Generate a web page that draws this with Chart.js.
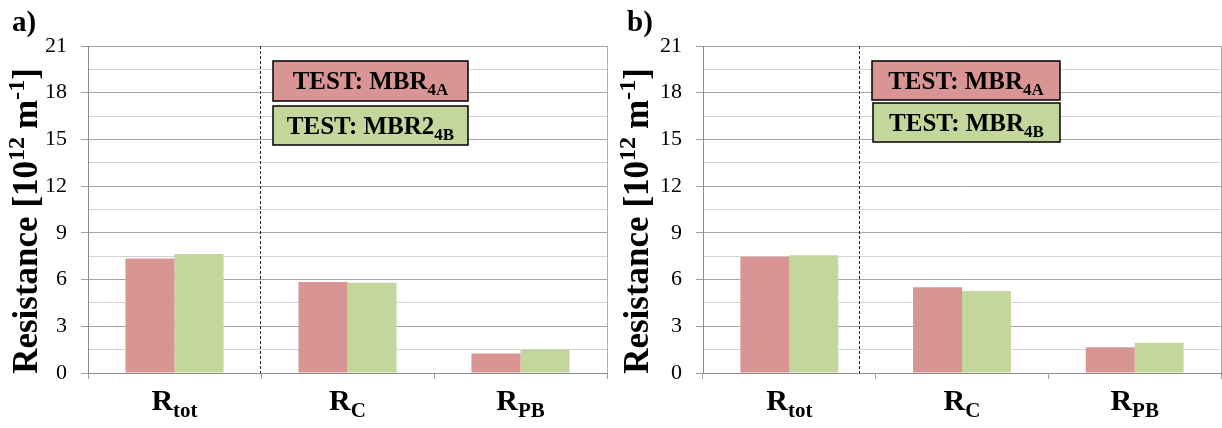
<!DOCTYPE html>
<html>
<head>
<meta charset="utf-8">
<script src="https://cdn.jsdelivr.net/npm/chart.js@4.4.0/dist/chart.umd.min.js"></script>
<style>
  body { margin: 0; background: #fff; }
  #wrap { position: relative; width: 1222px; height: 428px; overflow: hidden; }
  canvas { position: absolute; top: 0; }
</style>
</head>
<body>
<div id="wrap">
  <canvas id="chartA" width="611" height="428" style="left:0"></canvas>
  <canvas id="chartB" width="611" height="428" style="left:611px"></canvas>
</div>
<script>
// categories (main letter + subscript)
const categories = ["Rtot", "RC", "RPB"];
const catMain = ["R", "R", "R"];
const catSub = ["tot", "C", "PB"];

// panel a
const a4A = [7.35, 5.85, 1.25];
const a4B = [7.65, 5.79, 1.51];
const namesA = ["TEST: MBR", "TEST: MBR2"];
const subsA = ["4A", "4B"];

// panel b
const b4A = [7.46, 5.51, 1.65];
const b4B = [7.56, 5.27, 1.95];
const namesB = ["TEST: MBR", "TEST: MBR"];
const subsB = ["4A", "4B"];

// y axis
const yMin = 0;
const yMax = 21;
const yMajor = 3;
const yMinor = 1.5;

const colors = ["#D99594", "#C3D69B"];
const serif = "'Liberation Serif', 'Times New Roman', serif";

// draws a run of text pieces [{t, size, dy, gap}] starting at x
function drawRuns(ctx, runs, x, y) {
  let cx = x;
  runs.forEach((r) => {
    ctx.font = `bold ${r.size}px ${serif}`;
    ctx.fillText(r.t, cx, y + (r.dy || 0));
    cx += ctx.measureText(r.t).width + (r.gap || 0);
  });
}

function runsWidth(ctx, runs) {
  let w = 0;
  runs.forEach((r) => {
    ctx.font = `bold ${r.size}px ${serif}`;
    w += ctx.measureText(r.t).width + (r.gap || 0);
  });
  return w;
}

const decorPlugin = {
  id: "decor",
  afterDraw(chart, args, opts) {
    const ctx = chart.ctx;
    const xs = chart.scales.x;
    const area = chart.chartArea;
    ctx.save();
    ctx.fillStyle = "#000";
    ctx.textAlign = "left";
    ctx.textBaseline = "alphabetic";

    // divider
    const dx = Math.round(xs.getPixelForValue(opts.divider)) + 0.5;
    ctx.strokeStyle = "#222";
    ctx.lineWidth = 1;
    ctx.setLineDash([3, 2]);
    ctx.beginPath();
    ctx.moveTo(dx, area.top);
    ctx.lineTo(dx, area.bottom);
    ctx.stroke();
    ctx.setLineDash([]);

    // panel letter
    ctx.font = `bold 29px ${serif}`;
    ctx.fillText(opts.letter, opts.letterX, 31);

    // category labels
    categories.forEach((c, i) => {
      const runs = [
        { t: catMain[i], size: 30 },
        { t: catSub[i], size: 21, dy: 7 },
      ];
      const w = runsWidth(ctx, runs);
      drawRuns(ctx, runs, xs.getPixelForValue(i) - w / 2, area.bottom + 37);
    });

    // y title, rotated
    ctx.save();
    ctx.translate(opts.titleX, opts.titleY);
    ctx.rotate(-Math.PI / 2);
    const title = [
      { t: "Resistance [10", size: 35 },
      { t: "12", size: 24, dy: -13, gap: 8 },
      { t: "m", size: 35 },
      { t: "-1", size: 24, dy: -13 },
      { t: "]", size: 35 },
    ];
    const tw = runsWidth(ctx, title);
    drawRuns(ctx, title, -tw / 2, 12);
    ctx.restore();

    // legend boxes
    chart.data.datasets.forEach((ds, i) => {
      const b = opts.boxes[i];
      ctx.fillStyle = ds.backgroundColor;
      ctx.fillRect(b.x, b.y, b.w, b.h);
      ctx.strokeStyle = "#000";
      ctx.lineWidth = 1.5;
      ctx.strokeRect(b.x, b.y, b.w, b.h);
      ctx.fillStyle = "#000";
      const runs = [
        { t: ds.label, size: 25 },
        { t: opts.subs[i], size: 17, dy: 6 },
      ];
      const w = runsWidth(ctx, runs);
      drawRuns(ctx, runs, b.x + b.w / 2 - w / 2, b.y + b.h / 2 + 8);
    });
    ctx.restore();
  },
};

function makeChart(id, s1, s2, names, subs, axisWidth, padRight, decor) {
  const ctx = document.getElementById(id).getContext("2d");
  return new Chart(ctx, {
    type: "bar",
    data: {
      labels: categories,
      datasets: [
        { label: names[0], data: s1, backgroundColor: colors[0] },
        { label: names[1], data: s2, backgroundColor: colors[1] },
      ],
    },
    options: {
      responsive: false,
      animation: false,
      events: [],
      categoryPercentage: 0.567,
      barPercentage: 1,
      layout: { padding: { top: 46, right: padRight, bottom: 0, left: 0 } },
      plugins: {
        legend: { display: false },
        tooltip: { enabled: false },
        decor: Object.assign({ subs }, decor),
      },
      scales: {
        x: {
          type: "category",
          offset: true,
          afterFit: (s) => { s.height = 55; },
          grid: {
            offset: true,
            drawOnChartArea: true,
            color: (c) => (c.type === "tick" ? "rgba(0,0,0,0)" : "#b0b0b0"),
            tickColor: "#a0a0a0",
            tickLength: 6,
          },
          border: { color: "#8c8c8c" },
          ticks: { display: false },
        },
        y: {
          min: yMin,
          max: yMax,
          afterFit: (s) => { s.width = axisWidth; },
          grid: {
            color: (c) => (c.tick && c.tick.value % yMajor === 0 ? "#a6a6a6" : "#d4d4d4"),
            tickColor: (c) => (c.tick && c.tick.value % yMajor === 0 ? "#a0a0a0" : "rgba(0,0,0,0)"),
            tickLength: 7,
          },
          border: { color: "#8c8c8c" },
          ticks: {
            stepSize: yMinor,
            autoSkip: false,
            padding: 14,
            color: "#000",
            font: { family: serif, size: 22 },
            callback: (v) => (v % yMajor === 0 ? v : ""),
          },
        },
      },
    },
    plugins: [decorPlugin],
  });
}

makeChart("chartA", a4A, a4B, namesA, subsA, 88, 4, {
  letter: "a)",
  letterX: 12,
  titleX: 25,
  titleY: 221,
  divider: 0.4925,
  boxes: [
    { x: 273, y: 61, w: 195, h: 40 },
    { x: 273, y: 106, w: 195, h: 39 },
  ],
});

makeChart("chartB", b4A, b4B, namesB, subsB, 92, 1, {
  letter: "b)",
  letterX: 16,
  titleX: 25,
  titleY: 221,
  divider: 0.403,
  boxes: [
    { x: 261, y: 61, w: 188, h: 39 },
    { x: 262, y: 103, w: 187, h: 39 },
  ],
});
</script>
</body>
</html>
